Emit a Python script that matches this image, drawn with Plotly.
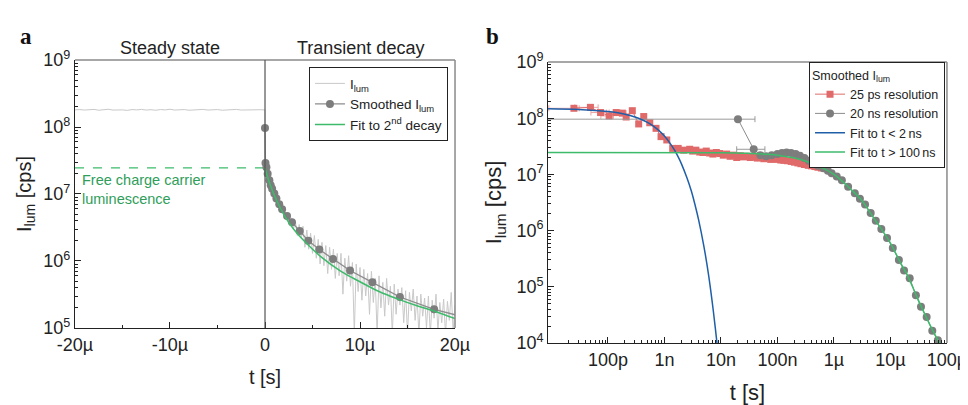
import math
import plotly.graph_objects as go

# ---------------- Panel a data (t in microseconds) ----------------
steady_t_us = [-20 + 0.5 * i for i in range(41)]
steady_I = [1.80e8, 1.82e8, 1.79e8, 1.81e8, 1.83e8, 1.78e8, 1.80e8, 1.84e8, 1.79e8, 1.81e8,
            1.80e8, 1.77e8, 1.82e8, 1.80e8, 1.83e8, 1.79e8, 1.81e8, 1.78e8, 1.82e8, 1.80e8,
            1.84e8, 1.79e8, 1.80e8, 1.82e8, 1.78e8, 1.81e8, 1.80e8, 1.83e8, 1.79e8, 1.81e8,
            1.82e8, 1.78e8, 1.80e8, 1.81e8, 1.83e8, 1.79e8, 1.80e8, 1.82e8, 1.79e8, 1.81e8, 1.80e8]

decay_t_us = [0.2 * i for i in range(101)]
decay_I = [3.0e7,
           2.6e7, 2.1e7, 1.75e7, 1.45e7, 1.0e7, 8.8e6, 7.9e6, 7.0e6, 6.0e6, 6.3e6,
           4.6e6, 5.2e6, 3.6e6, 4.4e6, 3.0e6, 3.9e6, 2.4e6, 3.5e6, 2.2e6, 3.3e6,
           1.6e6, 2.9e6, 1.5e6, 2.6e6, 1.3e6, 2.4e6, 1.1e6, 2.1e6, 9.0e5, 1.9e6,
           8.5e5, 1.7e6, 6.5e5, 1.6e6, 7.5e5, 1.5e6, 5.5e5, 1.3e6, 6.0e5, 1.3e6,
           3.2e5, 1.1e6, 5.0e5, 1.2e6, 4.2e5, 9.5e5, 8.0e4, 9.0e5, 3.5e5, 8.0e5,
           2.6e5, 7.5e5, 3.0e5, 6.5e5, 1.6e5, 7.0e5, 2.4e5, 5.5e5, 8.0e4, 6.0e5,
           2.0e5, 4.8e5, 1.5e5, 5.5e5, 2.2e5, 4.2e5, 8.0e4, 4.5e5, 1.6e5, 3.8e5,
           2.2e5, 4.0e5, 1.2e5, 3.6e5, 8.0e4, 3.4e5, 1.8e5, 3.8e5, 1.3e5, 3.0e5,
           8.0e4, 3.2e5, 1.5e5, 2.8e5, 1.0e5, 3.0e5, 8.0e4, 2.6e5, 1.4e5, 3.2e5,
           9.0e4, 2.4e5, 1.2e5, 2.7e5, 8.0e4, 2.5e5, 1.3e5, 3.4e5, 9.0e4, 2.2e5]

smooth_t_us = [0.0, 0.05, 0.15, 0.28, 0.46, 0.6, 0.75, 0.98, 1.2, 1.5, 1.8, 2.32, 2.84,
               3.65, 4.56, 5.72, 7.16, 8.95, 11.3, 14.2, 17.8, 22.3]
smooth_I = [9.7e7, 2.9e7, 2.5e7, 2.0e7, 1.6e7, 1.35e7, 1.2e7, 1.02e7, 8.6e6, 7.0e6, 5.9e6,
            4.7e6, 3.8e6, 2.8e6, 2.0e6, 1.48e6, 1.07e6, 7.2e5, 4.8e5, 2.9e5, 1.9e5, 1.3e5]

fit_a_t_us = [0, 0.5, 1, 2, 3, 4, 6, 8, 10, 12, 14, 16, 18, 20]
fit_a_I = [2.45e7, 1.43e7, 9.4e6, 4.9e6, 3.0e6, 2.07e6, 1.12e6, 7.0e5, 4.9e5, 3.5e5,
           2.7e5, 2.15e5, 1.75e5, 1.38e5]

# ---------------- Panel b data (t in seconds) ----------------
red_t = [2.5e-11, 4.9e-11, 7.4e-11, 1.05e-10, 1.4e-10, 1.8e-10, 2.1e-10, 2.7e-10, 3.5e-10,
         4.3e-10, 5.5e-10, 7.1e-10, 8.7e-10, 1.1e-9, 1.4e-9, 1.75e-9, 2.2e-9, 2.8e-9,
         3.16e-9, 3.6e-9, 4.2e-9, 4.8e-9, 5.5e-9, 6.3e-9, 7.2e-9, 8.3e-9, 9.5e-9, 1.1e-8,
         1.26e-8, 1.45e-8, 1.66e-8, 1.9e-8, 2.2e-8, 2.5e-8, 2.9e-8, 3.3e-8, 3.8e-8, 4.4e-8,
         5.0e-8, 5.75e-8, 6.6e-8, 7.6e-8, 8.7e-8, 1.0e-7, 1.15e-7, 1.3e-7, 1.5e-7, 1.75e-7,
         2.0e-7, 2.3e-7, 2.6e-7, 3.0e-7, 3.5e-7, 4.0e-7, 4.6e-7, 5.2e-7, 6.0e-7]
red_I = [1.50e8, 1.56e8, 1.26e8, 1.10e8, 1.26e8, 1.23e8, 1.05e8, 1.36e8, 7.9e7,
         1.07e8, 8.3e7, 6.6e7, 4.7e7, 4.1e7, 2.9e7, 2.9e7, 2.7e7, 2.8e7,
         2.6e7, 2.7e7, 2.5e7, 2.45e7, 2.6e7, 2.4e7, 2.3e7, 2.45e7, 2.35e7, 2.2e7,
         2.3e7, 2.1e7, 2.2e7, 2.0e7, 2.15e7, 2.05e7, 2.1e7, 2.0e7, 2.05e7, 1.95e7,
         2.0e7, 1.9e7, 1.95e7, 1.85e7, 1.9e7, 1.85e7, 1.8e7, 1.78e7, 1.75e7, 1.7e7,
         1.65e7, 1.6e7, 1.55e7, 1.5e7, 1.45e7, 1.42e7, 1.38e7, 1.34e7, 1.3e7]
red_err_minus = [1.6e-11, 2.3e-11, 2.4e-11, 3.0e-11, 3.5e-11, 4.0e-11] + [0] * 51
red_err_plus = [0.6e-11, 1.8e-11, 2.0e-11, 2.0e-11, 3.0e-11, 3.0e-11] + [0] * 51

gray_t = [2.0e-8, 3.8e-8, 5.0e-8, 6.3e-8, 7.9e-8, 1.0e-7, 1.2e-7, 1.45e-7, 1.74e-7, 2.1e-7,
          2.5e-7, 3.0e-7, 3.6e-7, 4.3e-7, 5.2e-7, 6.5e-7, 7.8e-7, 9.1e-7, 1.12e-6, 1.38e-6,
          1.78e-6, 2.34e-6, 2.88e-6, 3.55e-6, 4.47e-6, 5.5e-6, 6.9e-6, 8.7e-6, 1.1e-5,
          1.41e-5, 1.74e-5, 2.19e-5, 2.82e-5, 3.47e-5, 4.37e-5, 5.5e-5, 6.9e-5]
gray_I = [9.6e7, 2.8e7, 2.2e7, 2.1e7, 2.2e7, 2.3e7, 2.4e7, 2.45e7, 2.4e7, 2.3e7,
          2.15e7, 1.95e7, 1.75e7, 1.58e7, 1.42e7, 1.29e7, 1.16e7, 1.05e7, 9.2e6, 7.9e6,
          6.0e6, 4.6e6, 3.7e6, 2.9e6, 2.05e6, 1.5e6, 1.07e6, 7.4e5, 4.9e5,
          3.0e5, 1.95e5, 1.42e5, 7.1e4, 4.4e4, 2.9e4, 1.65e4, 1.12e4]
gray_err_minus = [1.99999e-8, 1.9e-8] + [0] * 35
gray_err_plus = [2.0e-8, 2.2e-8] + [0] * 35

fit_short_t = [8.7e-12, 3e-11, 1e-10, 1.5e-10, 2e-10, 3e-10, 4e-10, 5e-10, 6e-10, 7e-10,
               8e-10, 1e-9, 1.25e-9, 1.5e-9, 1.75e-9, 2e-9, 2.5e-9, 3e-9, 3.5e-9, 4e-9,
               5e-9, 6e-9, 7e-9, 8e-9, 8.6e-9]
fit_short_I = [1.47e8, 1.43e8, 1.32e8, 1.25e8, 1.18e8, 1.05e8, 9.4e7, 8.4e7, 7.5e7, 6.7e7,
               6.0e7, 4.8e7, 3.6e7, 2.72e7, 2.05e7, 1.54e7, 8.7e6, 5.0e6, 2.8e6, 1.6e6,
               5.2e5, 1.7e5, 5.4e4, 1.75e4, 9.0e3]

fit_long_t = [8.7e-12, 1e-8, 3e-8, 1e-7, 2e-7, 3e-7, 5e-7, 1e-6, 2e-6, 3e-6, 5e-6, 7e-6,
              1e-5, 1.5e-5, 2e-5, 3e-5, 5e-5, 7e-5, 8.2e-5]
fit_long_I = [2.45e7, 2.43e7, 2.37e7, 2.2e7, 1.95e7, 1.75e7, 1.45e7, 1.0e7, 5.4e6, 3.6e6,
              1.7e6, 1.05e6, 6.0e5, 2.7e5, 1.6e5, 6.3e4, 2.1e4, 1.1e4, 8.5e3]

a_xticks = [-20, -10, 0, 10, 20]
a_xticktext = ["-20\u00b5", "-10\u00b5", "0", "10\u00b5", "20\u00b5"]
a_yticks = [1e5, 1e6, 1e7, 1e8, 1e9]
b_xticks = [1e-10, 1e-9, 1e-8, 1e-7, 1e-6, 1e-5, 1e-4]
b_xticktext = ["100p", "1n", "10n", "100n", "1\u00b5", "10\u00b5", "100\u00b5"]
b_yticks = [1e4, 1e5, 1e6, 1e7, 1e8, 1e9]

C_RAW = "#c9c9c9"
C_GRAY = "#7d7d7d"
C_GRAYLINE = "#8c8c8c"
C_GREEN = "#3dbb6a"
C_GREEN_TXT = "#2f9e5a"
C_RED = "#e06a6a"
C_BLUE = "#1f5fa8"
FONT = "Liberation Sans, Arial, sans-serif"


def sup(v):
    return "10<sup>%d</sup>" % round(math.log10(v))


fig = go.Figure()

# ---- panel a ----
fig.add_trace(go.Scatter(x=steady_t_us + decay_t_us, y=steady_I + decay_I, mode="lines",
                         line=dict(color=C_RAW, width=1), name="I<sub>lum</sub>",
                         legend="legend", legendrank=1, xaxis="x", yaxis="y"))
fig.add_trace(go.Scatter(x=[-20, 0], y=[fit_a_I[0], fit_a_I[0]], mode="lines",
                         line=dict(color=C_GREEN, width=1.3, dash="dash"), showlegend=False,
                         xaxis="x", yaxis="y"))
fig.add_trace(go.Scatter(x=smooth_t_us, y=smooth_I, mode="lines+markers",
                         line=dict(color=C_GRAYLINE, width=1.3),
                         marker=dict(color=C_GRAY, size=8, symbol="circle"),
                         name="Smoothed I<sub>lum</sub>", legend="legend", legendrank=2,
                         xaxis="x", yaxis="y"))
fig.add_trace(go.Scatter(x=fit_a_t_us, y=fit_a_I, mode="lines",
                         line=dict(color=C_GREEN, width=1.5, shape="spline"),
                         name="Fit to 2<sup>nd</sup> decay", legend="legend", legendrank=3,
                         xaxis="x", yaxis="y"))

# ---- panel b ----
fig.add_trace(go.Scatter(x=red_t, y=red_I, mode="lines+markers",
                         line=dict(color=C_RED, width=1),
                         marker=dict(color=C_RED, size=7, symbol="square"),
                         error_x=dict(type="data", array=red_err_plus, arrayminus=red_err_minus,
                                      symmetric=False, color="#efa3a3", thickness=1, width=3),
                         name="25 ps resolution", legend="legend2", legendrank=1,
                         xaxis="x2", yaxis="y2"))
fig.add_trace(go.Scatter(x=gray_t, y=gray_I, mode="lines+markers",
                         line=dict(color=C_GRAYLINE, width=1),
                         marker=dict(color=C_GRAY, size=8, symbol="circle"),
                         error_x=dict(type="data", array=gray_err_plus, arrayminus=gray_err_minus,
                                      symmetric=False, color="#9a9a9a", thickness=1, width=3),
                         name="20 ns resolution", legend="legend2", legendrank=2,
                         xaxis="x2", yaxis="y2"))
fig.add_trace(go.Scatter(x=fit_short_t, y=fit_short_I, mode="lines",
                         line=dict(color=C_BLUE, width=1.5, shape="spline"),
                         name="Fit to t < 2\u2009ns", legend="legend2", legendrank=3,
                         xaxis="x2", yaxis="y2"))
fig.add_trace(go.Scatter(x=fit_long_t, y=fit_long_I, mode="lines",
                         line=dict(color=C_GREEN, width=1.5, shape="spline"),
                         name="Fit to t > 100\u2009ns", legend="legend2", legendrank=4,
                         xaxis="x2", yaxis="y2"))

axis_common = dict(showline=True, linecolor="#222", linewidth=1, ticks="inside",
                   ticklen=6, tickcolor="#222", showgrid=False, zeroline=False,
                   automargin=False, tickfont=dict(size=18, color="#222"))

a_yminor = [m * 10 ** e for e in range(5, 9) for m in range(2, 10)]
b_yminor = [m * 10 ** e for e in range(4, 9) for m in range(2, 10)]
b_xminor = [m * 10 ** e for e in range(-12, -4) for m in range(2, 10)]

fig.update_layout(
    template="none",
    width=968, height=405,
    margin=dict(l=0, r=0, t=0, b=0, autoexpand=False),
    paper_bgcolor="white", plot_bgcolor="white",
    font=dict(family=FONT, color="#222"),
    xaxis=dict(domain=[0.0692, 0.4618], anchor="y", range=[-20, 20],
               tickmode="array", tickvals=a_xticks, ticktext=a_xticktext,
               minor=dict(tickvals=[-15, -5, 5, 15], ticks="inside", ticklen=3, tickcolor="#222"),
               title=dict(text="t [s]", font=dict(size=20), standoff=16), **axis_common),
    yaxis=dict(domain=[0.2099, 0.8716], anchor="x", type="log", range=[5, 9],
               tickmode="array", tickvals=a_yticks, ticktext=[sup(v) for v in a_yticks],
               minor=dict(tickvals=a_yminor, ticks="inside", ticklen=3, tickcolor="#222"),
               title=dict(text="I<sub>lum</sub> [cps]", font=dict(size=20), standoff=6),
               **axis_common),
    xaxis2=dict(domain=[0.5579, 0.9700], anchor="y2", type="log", range=[-11.06, -4],
                tickmode="array", tickvals=b_xticks, ticktext=b_xticktext,
                minor=dict(tickvals=b_xminor, ticks="inside", ticklen=3, tickcolor="#222"),
                title=dict(text="t [s]", font=dict(size=22), standoff=15), **axis_common),
    yaxis2=dict(domain=[0.1728, 0.8667], anchor="x2", type="log", range=[4, 9],
                tickmode="array", tickvals=b_yticks, ticktext=[sup(v) for v in b_yticks],
                minor=dict(tickvals=b_yminor, ticks="inside", ticklen=3, tickcolor="#222"),
                title=dict(text="I<sub>lum</sub> [cps]", font=dict(size=22), standoff=8),
                **axis_common),
    legend=dict(x=0.4545, y=0.854, xanchor="right", yanchor="top", bgcolor="white",
                bordercolor="#222", borderwidth=1, font=dict(size=13.5),
                tracegroupgap=0, itemwidth=30),
    legend2=dict(x=0.968, y=0.866, xanchor="right", yanchor="top", bgcolor="white",
                 bordercolor="#222", borderwidth=1, font=dict(size=12.5),
                 title=dict(text="Smoothed I<sub>lum</sub>", font=dict(size=12.5)),
                 tracegroupgap=0, itemwidth=30),
    showlegend=True,
)

# frame lines (top/right) in gray, plus separator at t = 0
for xr, yr in (("x", "y"), ("x2", "y2")):
    fig.add_shape(type="line", xref=xr + " domain", yref=yr + " domain", x0=0, x1=1, y0=1, y1=1,
                  line=dict(color="#8a8a8a", width=1.5))
    fig.add_shape(type="line", xref=xr + " domain", yref=yr + " domain", x0=1, x1=1, y0=0, y1=1,
                  line=dict(color="#8a8a8a", width=1.5))
fig.add_shape(type="line", xref="x", yref="y domain", x0=0, x1=0, y0=0, y1=1,
              line=dict(color="#555", width=1.2), layer="above")

fig.add_annotation(x=-10, y=0.901, xref="x", yref="paper", text="Steady state", showarrow=False,
                   font=dict(size=18, color="#222"), yanchor="middle")
fig.add_annotation(x=10, y=0.901, xref="x", yref="paper", text="Transient decay", showarrow=False,
                   font=dict(size=18, color="#222"), yanchor="middle")
fig.add_annotation(x=-19.5, y=7.07, xref="x", yref="y", text="Free charge carrier<br>luminescence",
                   showarrow=False, xanchor="left", yanchor="middle", align="left",
                   font=dict(size=14.5, color=C_GREEN_TXT))
fig.add_annotation(x=0.0103, y=0.965, xref="paper", yref="paper", text="<b>a</b>", showarrow=False,
                   font=dict(size=23, family="Liberation Serif, Times New Roman, serif", color="#111"))
fig.add_annotation(x=0.501, y=0.965, xref="paper", yref="paper", text="<b>b</b>", showarrow=False,
                   font=dict(size=23, family="Liberation Serif, Times New Roman, serif", color="#111"))

fig.write_html("out.html")
